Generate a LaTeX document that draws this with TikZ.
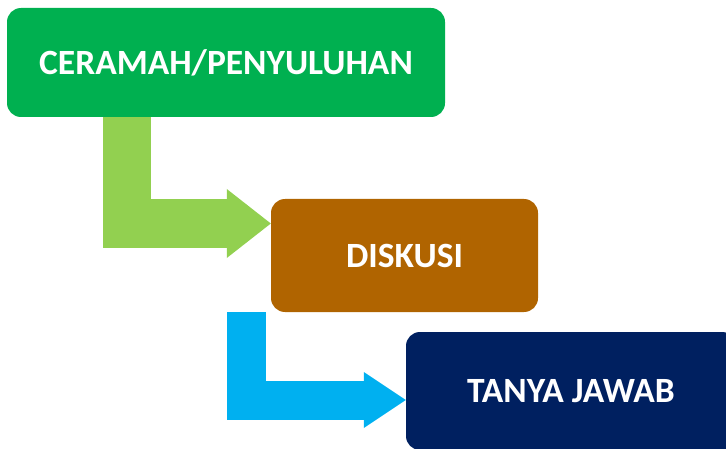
\documentclass[tikz,border=0pt]{standalone}
\usepackage{fontspec}
\setmainfont{Carlito}
\usetikzlibrary{arrows.meta}
\definecolor{boxgreen}{HTML}{00B050}
\definecolor{arrowgreen}{HTML}{92D050}
\definecolor{boxbrown}{HTML}{B06400}
\definecolor{boxnavy}{HTML}{002060}
\definecolor{arrowcyan}{HTML}{00B0F0}
\begin{document}
\begin{tikzpicture}[x=1pt,y=1pt,
  stepbox/.style={rounded corners=14pt,inner sep=0pt,text=white,
    font=\fontsize{35.5}{40}\selectfont\bfseries},
  bent/.style={line join=miter,line cap=butt}]
  \useasboundingbox (0,0) rectangle (726,448);
  \clip (0,0) rectangle (726,448);
  \node[stepbox,fill=boxgreen,minimum width=438pt,minimum height=109pt] (cer) at (226,385.5) {CERAMAH/PENYULUHAN};
  \node[stepbox,fill=boxbrown,minimum width=267pt,minimum height=113pt] (dis) at (404.5,192.5) {DISKUSI};
  \node[stepbox,fill=boxnavy,minimum width=330pt,minimum height=118pt] (tj) at (571,57) {TANYA JAWAB};
  \draw[bent,arrowgreen,line width=48pt,-{Triangle[length=44pt,width=69pt,line width=0pt]}]
    ([xshift=-99pt]cer.south) |- ([yshift=32pt]dis.west);
  \draw[bent,arrowcyan,line width=39pt,-{Triangle[length=42pt,width=56pt,line width=0pt]}]
    ([xshift=-158pt]dis.south) |- ([yshift=-9pt]tj.west);
\end{tikzpicture}
\end{document}
